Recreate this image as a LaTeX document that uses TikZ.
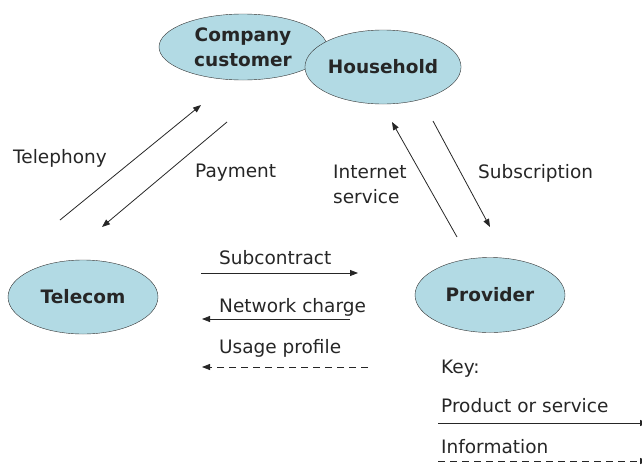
\documentclass[tikz,border=0pt]{standalone}
\usepackage{fontspec}
\setmainfont{DejaVu Sans}
\usetikzlibrary{shapes.geometric}
\usetikzlibrary{arrows.meta}
\definecolor{partyblue}{RGB}{178,218,228}

\begin{document}
\begin{tikzpicture}[x=1pt, y=-1pt
    , every node/.style={font=\fontsize{18.5}{25}\selectfont, text=black!85}
    , party/.style={ellipse, draw=black!80, fill=partyblue, inner sep=0pt
        , font=\fontsize{18.5}{25}\selectfont\bfseries, align=center}
    , flow/.style={draw=black!85, line width=0.8pt
        , -{Triangle[length=8pt, width=6pt]}}
    , info/.style={flow, dashed, dash pattern=on 7pt off 5pt}
    , lbl/.style={anchor=base west, inner sep=0pt}
    ]

    \useasboundingbox (0,0) rectangle (642,469);

    % the four parties
    \node[party, minimum width=168, minimum height=66] (company) at (243,47) {Company\\customer};
    \node[party, minimum width=150, minimum height=74] (household) at (383,67) {Household};
    \node[party, minimum width=150, minimum height=74] (telecom) at (83,297) {Telecom};
    \node[party, minimum width=150, minimum height=75] (provider) at (490,295) {Provider};

    %% Free ends of the flows
    \coordinate (telA) at (60,220);
    \coordinate (telB) at (201,105);
    \coordinate (payA) at (227,122);
    \coordinate (payB) at (102,227);
    \coordinate (netA) at (457,237);
    \coordinate (netB) at (392,122);
    \coordinate (subA) at (433,121);
    \coordinate (subB) at (490,227);
    \coordinate (conA) at (201,273);
    \coordinate (conB) at (358,273);
    \coordinate (chgA) at (350,319);
    \coordinate (chgB) at (202,319);
    \coordinate (useA) at (368,367);
    \coordinate (useB) at (202,367);
    \coordinate (keyA) at (438,423);
    \coordinate (keyB) at (648,423);
    \coordinate (keyC) at (438,461);
    \coordinate (keyD) at (648,461);

    \draw[flow] (telA) -- (telB);
    \draw[flow] (payA) -- (payB);
    \draw[flow] (netA) -- (netB);
    \draw[flow] (subA) -- (subB);
    \draw[flow] (conA) -- (conB);
    \draw[flow] (chgA) -- (chgB);
    \draw[info] (useA) -- (useB);
    \draw[flow] (keyA) -- (keyB);
    \draw[info] (keyC) -- (keyD);

    % labels
    \node[lbl] (telephony) at (13,163) {Telephony};
    \node[lbl] (payment) at (195,177) {Payment};
    \node[lbl, align=left] (internet) at (333,203) {Internet\\service};
    \node[lbl] (subscription) at (478,178) {Subscription};
    \node[lbl] (subcontract) at (219,264) {Subcontract};
    \node[lbl] (charge) at (219,312) {Network charge};
    \node[lbl] (usage) at (219,353) {Usage profile};
    \node[lbl] (key) at (441,373) {Key:};
    \node[lbl] (product) at (441,412) {Product or service};
    \node[lbl] (information) at (441,453) {Information};

\end{tikzpicture}
\end{document}
